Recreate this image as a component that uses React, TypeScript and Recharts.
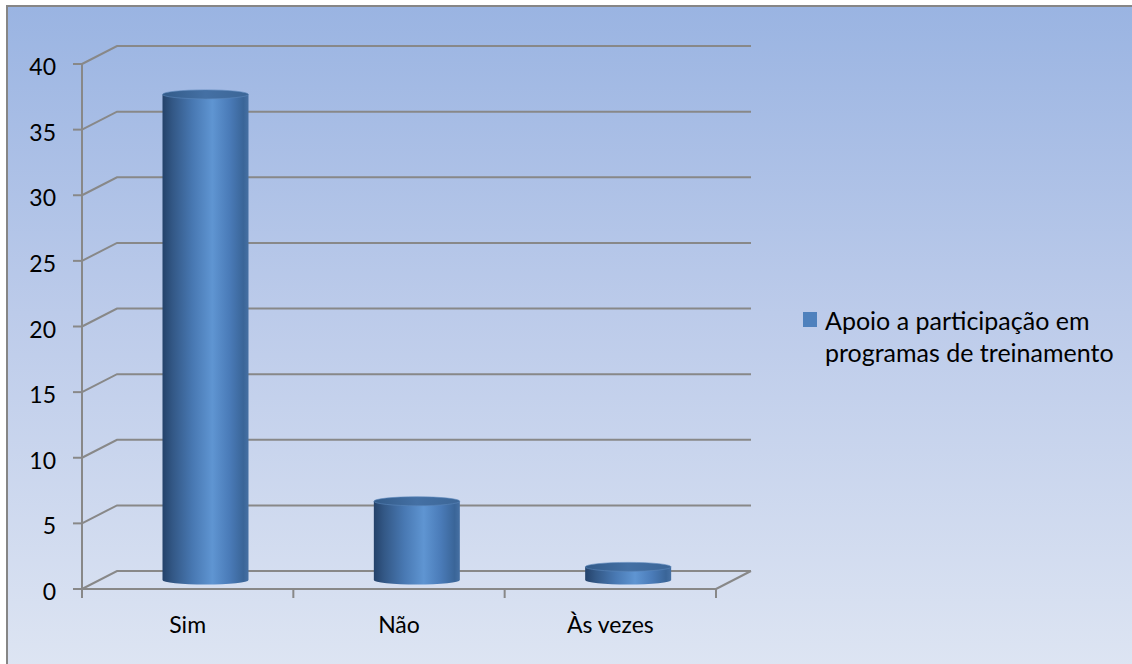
import React from 'react';
import { BarChart, Bar, XAxis, YAxis, CartesianGrid, Legend } from 'recharts';

const categories = ['Sim', 'Não', 'Às vezes'];
const values = [37, 6, 1];
const yTicks = [0, 5, 10, 15, 20, 25, 30, 35, 40];
const seriesName = 'Apoio a participação em programas de treinamento';
const legendLines = ['Apoio a participação em', 'programas de treinamento'];

const data = categories.map((name, i) => ({ name, value: values[i] }));

const DX = 35;
const DY = 18;
const GRID = '#888888';
const FONT = 'Lato, "Open Sans", sans-serif';
const FS = 23;
const LFS = 25;

const Cylinder = (props: any) => {
  const { x, y, width, height, index } = props;
  const left = x + DX / 2;
  const rx = width / 2;
  const ry = 4.5;
  const top = y - DY / 2;
  const bottom = y + height - DY / 2;
  const cx = left + rx;
  const gid = `cyl-${index}`;
  const tid = `cyltop-${index}`;
  return (
    <g>
      <defs>
        <linearGradient id={gid} x1="0" y1="0" x2="1" y2="0">
          <stop offset="0%" stopColor="#24426a" />
          <stop offset="12%" stopColor="#335886" />
          <stop offset="35%" stopColor="#4878b2" />
          <stop offset="58%" stopColor="#5f95d2" />
          <stop offset="78%" stopColor="#4a7bb8" />
          <stop offset="94%" stopColor="#3a6598" />
          <stop offset="100%" stopColor="#4670a3" />
        </linearGradient>
        <linearGradient id={tid} x1="0" y1="0" x2="1" y2="0">
          <stop offset="0%" stopColor="#335b89" />
          <stop offset="50%" stopColor="#4470a4" />
          <stop offset="100%" stopColor="#3c6697" />
        </linearGradient>
      </defs>
      <path
        d={`M${left},${top} L${left},${bottom} A${rx},${ry} 0 0 0 ${left + width},${bottom} L${left + width},${top} Z`}
        fill={`url(#${gid})`}
      />
      <ellipse cx={cx} cy={top} rx={rx} ry={ry} fill={`url(#${tid})`} stroke="#5a86bb" strokeWidth={0.6} />
    </g>
  );
};

const XTick = (props: any) => {
  const { x, y, payload, index } = props;
  const half = payload && typeof payload.offset === 'number' && payload.offset > 0 ? payload.offset : 105.67;
  const l = x - half;
  const r = x + half;
  const isLast = index === categories.length - 1;
  return (
    <g>
      <line x1={l} y1={y} x2={l} y2={y + 9} stroke={GRID} strokeWidth={2} />
      {isLast && <line x1={r} y1={y} x2={r} y2={y + 9} stroke={GRID} strokeWidth={2} />}
      {isLast && <line x1={r} y1={y} x2={r + DX} y2={y - DY} stroke={GRID} strokeWidth={2} />}
      <text x={x} y={y + 44} textAnchor="middle" fontFamily={FONT} fontSize={FS} fill="#000">
        {payload.value}
      </text>
    </g>
  );
};

const YTick = (props: any) => {
  const { x, y, payload } = props;
  return (
    <text x={x} y={y + 11} textAnchor="end" fontFamily={FONT} fontSize={FS} fill="#000">
      {payload.value}
    </text>
  );
};

const gridLine = (p: any) => {
  const { x1, y1, x2 } = p;
  return (
    <path
      key={`g-${y1}`}
      d={`M${x1},${y1} L${x1 + DX},${y1 - DY} L${x2 + DX},${y1 - DY}`}
      fill="none"
      stroke={GRID}
      strokeWidth={2}
    />
  );
};

const LegendContent = (props: any) => {
  const color = props.payload && props.payload[0] ? props.payload[0].color : '#4f81bd';
  return (
    <div style={{ position: 'relative', height: 66, fontFamily: FONT, fontSize: LFS, lineHeight: '32px', color: '#000' }}>
      <div style={{ position: 'absolute', left: 3, top: 8, width: 14, height: 15, background: color }} />
      <div style={{ position: 'absolute', left: 25, top: 0, whiteSpace: 'nowrap' }}>
        {legendLines.map((l) => (
          <div key={l}>{l}</div>
        ))}
      </div>
    </div>
  );
};

export default function App() {
  return (
    <div style={{ position: 'relative', width: 1132, height: 664, overflow: 'hidden', background: '#fff' }}>
      <style>{`body{margin:0}`}</style>
      <div
        style={{
          position: 'absolute',
          left: 6,
          top: 5,
          width: 1140,
          height: 680,
          border: '2px solid #868686',
          background: 'linear-gradient(to bottom, #9ab4e2 0%, #bccbea 45%, #dfe6f3 100%)',
        }}
      />
      <div style={{ position: 'absolute', left: 0, top: 0 }}>
        <BarChart width={1132} height={664} data={data} margin={{ top: 64, right: 96, bottom: 0, left: 0 }}>
          <CartesianGrid horizontal={gridLine} vertical={false} />
          <XAxis
            dataKey="name"
            height={75}
            axisLine={{ stroke: GRID, strokeWidth: 2 }}
            tickLine={false}
            tickSize={0}
            tickMargin={0}
            tick={<XTick />}
            interval={0}
          />
          <YAxis
            width={82}
            domain={[0, 40]}
            ticks={yTicks}
            interval={0}
            axisLine={{ stroke: GRID, strokeWidth: 2 }}
            tickLine={{ stroke: GRID, strokeWidth: 2 }}
            tickSize={9}
            tickMargin={17}
            tick={<YTick />}
          />
          <Legend
            layout="vertical"
            align="right"
            verticalAlign="middle"
            width={320}
            wrapperStyle={{ left: 800, top: 304, width: 320, right: 'auto' }}
            content={<LegendContent />}
          />
          <Bar
            dataKey="value"
            name={seriesName}
            fill="#4f81bd"
            barSize={86}
            isAnimationActive={false}
            shape={(p: any) => <Cylinder {...p} />}
          />
        </BarChart>
      </div>
    </div>
  );
}
